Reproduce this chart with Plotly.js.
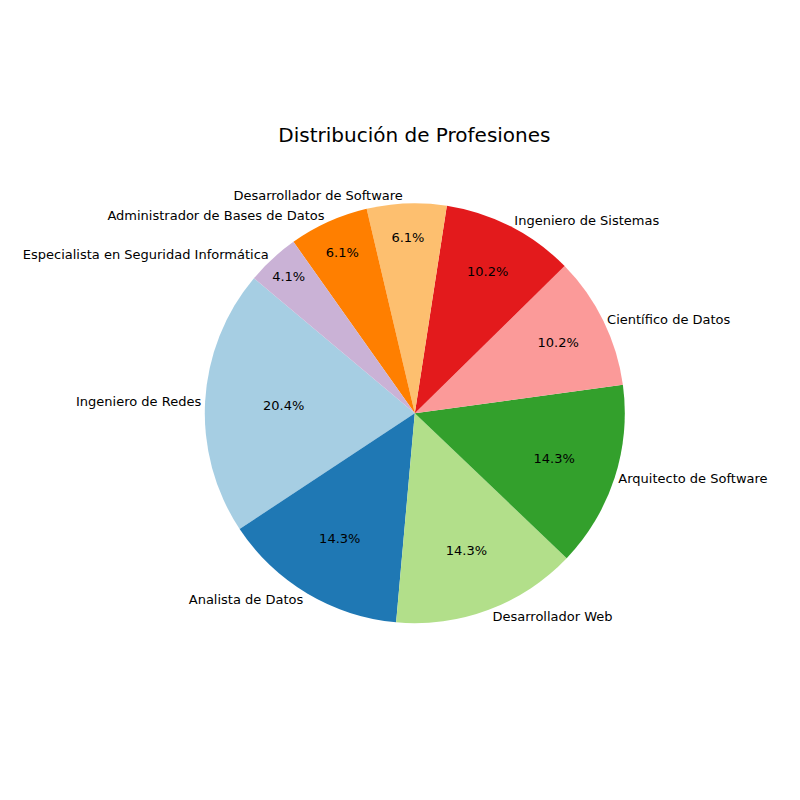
<!DOCTYPE html>
<html>
<head>
<meta charset="utf-8">
<script src="https://cdn.plot.ly/plotly-3.0.1.min.js"></script>
<style>body{margin:0}</style>
</head>
<body>
<div id="plot" style="width:800px;height:800px"></div>
<script>
const profesiones = [
  "Ingeniero de Redes", "Analista de Datos", "Desarrollador Web",
  "Arquitecto de Software", "Científico de Datos", "Ingeniero de Sistemas",
  "Desarrollador de Software", "Administrador de Bases de Datos",
  "Especialista en Seguridad Informática"
];
const cantidades = [10, 7, 7, 7, 5, 5, 3, 3, 2];
const colores = ["#a6cee3", "#1f78b4", "#b2df8a", "#33a02c", "#fb9a99",
  "#e31a1c", "#fdbf6f", "#ff7f00", "#cab2d6"];

const dominio = {x: [0.256, 0.781], y: [0.221, 0.746]};
const fuente = {family: "DejaVu Sans", size: 13, color: "black"};

// plotly ends the first slice at the rotation point when going counterclockwise
const total = cantidades.reduce((a, b) => a + b, 0);
const rotacion = -50 - 360 * cantidades[0] / total;

const trace1 = {
  type: "pie",
  labels: profesiones,
  values: cantidades,
  sort: false,
  direction: "counterclockwise",
  rotation: rotacion,
  domain: dominio,
  marker: {colors: colores},
  texttemplate: "%{percent:.1%}",
  textposition: "inside",
  insidetextorientation: "horizontal",
  textfont: fuente,
  hoverinfo: "label+percent",
  showlegend: false
};

// transparent copy just for the outside labels
const trace2 = {
  type: "pie",
  labels: profesiones,
  values: cantidades,
  sort: false,
  direction: "counterclockwise",
  rotation: rotacion,
  domain: dominio,
  marker: {colors: colores.map(() => "rgba(0,0,0,0)")},
  textinfo: "label",
  textposition: "outside",
  outsidetextfont: fuente,
  hoverinfo: "skip",
  showlegend: false
};

const layout = {
  width: 800,
  height: 800,
  margin: {l: 0, r: 0, t: 0, b: 0},
  paper_bgcolor: "white",
  title: {
    text: "Distribución de Profesiones",
    font: {family: "DejaVu Sans", size: 20, color: "black"},
    x: 0.518, xanchor: "center",
    y: 1 - 135 / 800, yanchor: "middle"
  }
};

Plotly.newPlot("plot", [trace1, trace2], layout, {displayModeBar: false});
</script>
</body>
</html>
